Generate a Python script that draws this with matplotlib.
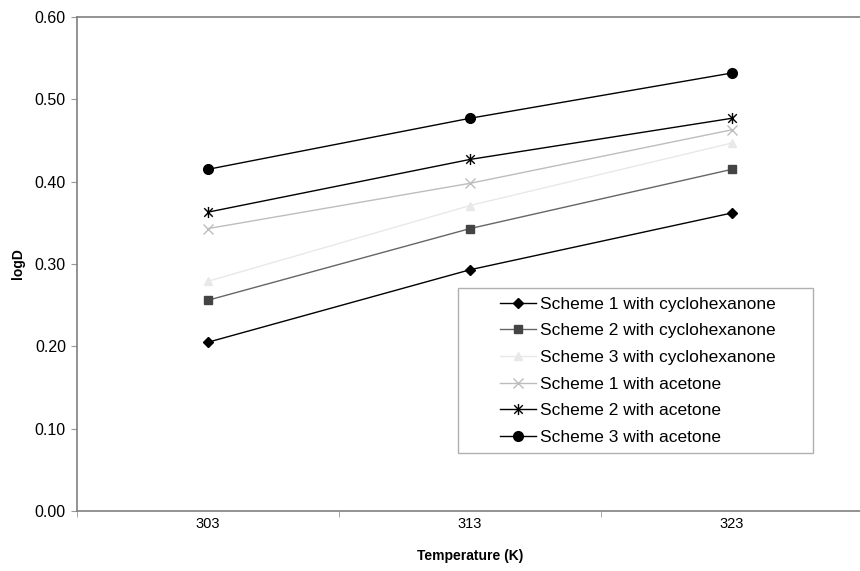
import numpy as np
import matplotlib.pyplot as plt
from matplotlib.patches import Rectangle
from matplotlib.path import Path

plt.rcParams['font.family'] = ['Liberation Sans', 'DejaVu Sans']

temps = ['303', '313', '323']
s1_cyc = [0.205, 0.293, 0.362]
s2_cyc = [0.256, 0.343, 0.415]
s3_cyc = [0.279, 0.371, 0.447]
s1_ace = [0.343, 0.398, 0.463]
s2_ace = [0.363, 0.427, 0.477]
s3_ace = [0.415, 0.477, 0.532]

labels = ['Scheme 1 with cyclohexanone', 'Scheme 2 with cyclohexanone',
          'Scheme 3 with cyclohexanone', 'Scheme 1 with acetone',
          'Scheme 2 with acetone', 'Scheme 3 with acetone']

# asterisk marker: an x with a vertical stroke through it
star = Path([(-1, -1), (1, 1), (-1, 1), (1, -1), (0, -1.3), (0, 1.3)],
            [Path.MOVETO, Path.LINETO, Path.MOVETO, Path.LINETO, Path.MOVETO, Path.LINETO])

fig = plt.figure(figsize=(8.6, 5.71), dpi=100)
ax = fig.add_axes([77/860, 1-511/571, 786/860, 494/571])

x = np.arange(len(temps))
lw = 1.0
ax.plot(x, s1_cyc, color='black', lw=lw, marker='D', ms=5, label=labels[0])
ax.plot(x, s2_cyc, color='#666666', lw=lw, marker='s', ms=6,
        mfc='#444444', mec='#444444', label=labels[1])
ax.plot(x, s3_cyc, color='#e8e8e8', lw=lw, marker='^', ms=6, label=labels[2])
ax.plot(x, s1_ace, color='#bdbdbd', lw=lw, marker='x', ms=7, mew=1.0, label=labels[3])
ax.plot(x, s2_ace, color='black', lw=lw, marker=star, ms=8, mew=1.0, label=labels[4])
ax.plot(x, s3_ace, color='black', lw=lw, marker='o', ms=7, label=labels[5])

ax.set_xlim(-0.5, 2.5)
ax.set_ylim(0, 0.6)
ax.set_yticks(np.arange(0, 0.61, 0.1))
ax.set_yticklabels(['%.2f' % v for v in np.arange(0, 0.61, 0.1)], fontsize=11.5)
ax.set_xticks(x)
ax.set_xticklabels(temps, fontsize=10.5)
ax.set_xticks([-0.5, 0.5, 1.5, 2.5], minor=True)
ax.tick_params(axis='x', which='major', length=0, pad=4)
ax.tick_params(axis='x', which='minor', length=4, color='#999999', direction='out')
ax.tick_params(axis='y', length=4, color='#999999', direction='out', pad=4)

for s in ['left', 'bottom', 'top', 'right']:
    ax.spines[s].set_color('#808080')
    ax.spines[s].set_linewidth(1.2)

ax.set_xlabel('Temperature (K)', fontsize=10, fontweight='bold', labelpad=13)
ax.set_ylabel('logD', fontsize=10, fontweight='bold', labelpad=7)

leg = ax.legend(loc='upper left', bbox_to_anchor=(491/860, 1-288/571),
                bbox_transform=fig.transFigure, frameon=False, fontsize=12.5,
                handlelength=2.1, handletextpad=0.2, labelspacing=0.66,
                borderpad=0)
box = Rectangle((458/860, 1-453/571), 355/860, 165/571, transform=fig.transFigure,
                fill=False, edgecolor='#b0b0b0', lw=1.0)
fig.patches.append(box)

fig.savefig('out.png', dpi=100)
